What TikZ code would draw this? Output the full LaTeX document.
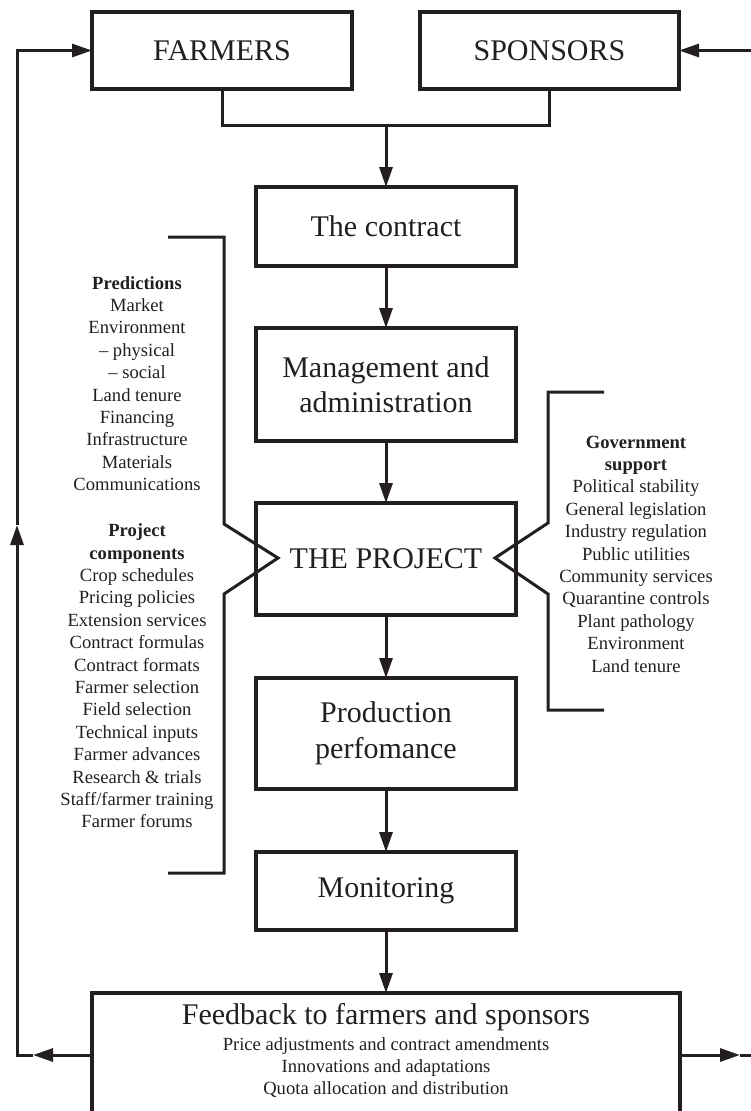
\documentclass[tikz,border=0pt]{standalone}
\usepackage{fontspec}
\setmainfont{Liberation Serif}
\usetikzlibrary{arrows.meta}
\definecolor{ink}{HTML}{231F20}
\begin{document}
\begin{tikzpicture}[x=1pt,y=-1pt,
  box/.style={draw=ink, text=ink, line width=3.2pt, inner sep=0pt, outer sep=0pt,
    align=center, font=\fontsize{30}{35.5}\selectfont, minimum width=260pt},
  wire/.style={draw=ink, line width=3pt},
  arr/.style={wire, -{Triangle[length=20pt,width=13pt]}},
  list/.style={text=ink, align=center, font=\fontsize{18.6}{22.4}\selectfont, inner sep=0pt},
]
\path[use as bounding box, clip] (0,0) rectangle (751,1111);

% main boxes
\node[box, minimum height=77pt] (farmers) at (222,50.5) {FARMERS};
\node[box, minimum width=259pt, minimum height=77pt] (sponsors) at (549.5,50.5) {SPONSORS};
\node[box, minimum height=79pt] (contract) at (386,226.5) {The contract};
\node[box, minimum height=113pt] (mgmt) at (386,384.5) {Management and\\administration};
\node[box, minimum height=112pt] (project) at (386,559) {THE PROJECT};
\node[box, minimum height=111pt] (prod) at (386,733.5) {Production\\perfomance};
\node[box, minimum height=78pt] (monit) at (386,891) {Monitoring};
\node[box, minimum width=588pt, minimum height=124pt] (fb) at (386,1055) {};
\node[text=ink, inner sep=0pt, font=\fontsize{30}{34}\selectfont] (fbtitle) at (386,1017) {Feedback to farmers and sponsors};
\node[list] (fbitems) at (386,1067.5) {Price adjustments and contract amendments\\
  Innovations and adaptations\\Quota allocation and distribution};

% farmers and sponsors join into the contract
\coordinate (jn) at (386,125);
\draw[wire] (farmers.south) |- (jn) -| (sponsors.south);
\draw[arr] (jn) -- (contract.north);

% main chain
\draw[arr] (contract.south) -- (mgmt.north);
\draw[arr] (mgmt.south) -- (project.north);
\draw[arr] (project.south) -- (prod.north);
\draw[arr] (prod.south) -- (monit.north);
\draw[arr] (monit.south) -- (fb.north);

% feedback loop on the left
\coordinate (lmid) at (33,1055);
\coordinate (lup) at (17,525);
\draw[arr] (fb.west) -- (lmid);
\draw[arr] (lmid) -| (lup);
\draw[arr] (lup) |- (farmers.west);

% feedback loop on the right
\coordinate (rtop) at (760,50.5);
\coordinate (rmid) at (740,1055);
\coordinate (rend) at (760,1055);
\draw[arr] (rtop) -- (sponsors.east);
\draw[arr] (fb.east) -- (rmid);
\draw[wire] (rmid) -- (rend);

% left bracket
\draw[wire] (168,237) -- (224,237) -- (224,524) -- (278,558) -- (224,594) -- (224,873) -- (168,873);
% right bracket
\draw[wire] (604,392) -- (548,392) -- (548,523) -- (495,558) -- (548,594) -- (548,710) -- (604,710);

% bracket texts
\node[list] (pred) at (137,383.5) {\textbf{Predictions}\\Market\\Environment\\– physical\\– social\\
  Land tenure\\Financing\\Infrastructure\\Materials\\Communications};
\node[list] (comp) at (137,676) {\textbf{Project}\\\textbf{components}\\Crop schedules\\Pricing policies\\
  Extension services\\Contract formulas\\Contract formats\\Farmer selection\\Field selection\\
  Technical inputs\\Farmer advances\\Research \& trials\\Staff/farmer training\\Farmer forums};
\node[list] (gov) at (636,554) {\textbf{Government}\\\textbf{support}\\Political stability\\General legislation\\
  Industry regulation\\Public utilities\\Community services\\Quarantine controls\\Plant pathology\\
  Environment\\Land tenure};
\end{tikzpicture}
\end{document}
